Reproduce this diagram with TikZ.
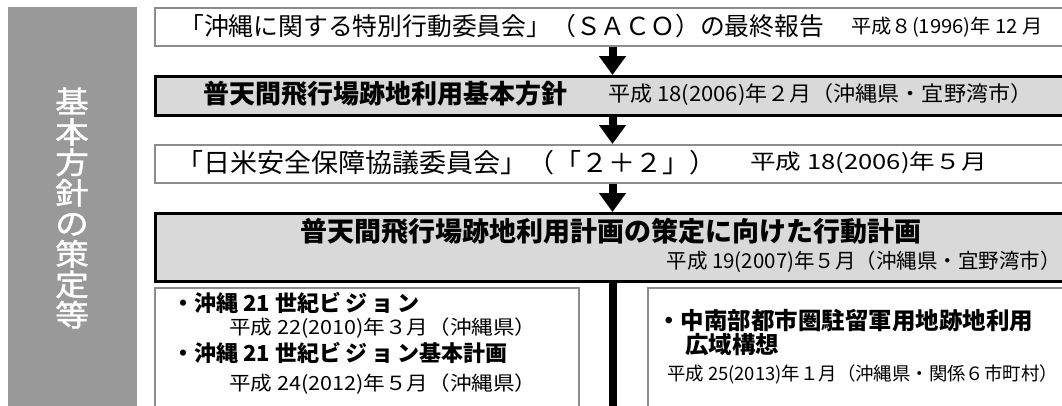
\documentclass[tikz,border=0pt]{standalone}
\usepackage{fontspec}
\setmainfont{Noto Sans CJK JP}
\newfontfamily\sidefont[FakeBold=1.2]{Noto Sans CJK JP}
\usetikzlibrary{arrows.meta}
\definecolor{sidegray}{HTML}{999999}
\definecolor{boxfill}{HTML}{D9D9D9}
\definecolor{thinline}{HTML}{8C8C8C}
\tikzset{
  plainbox/.style={draw=thinline, line width=2pt, fill=white, inner sep=0pt, anchor=north west},
  keybox/.style={draw=black, line width=3pt, fill=boxfill, inner sep=0pt, anchor=north west},
  txt/.style={inner sep=0pt, anchor=west},
  bigarrow/.style={line width=8pt, -{Triangle[length=19pt,width=26pt]}},
  trunk/.style={line width=8pt},
}
\newcommand{\fs}[1]{\fontsize{#1}{#1}\selectfont}
\newcommand{\hs}[2]{\scalebox{#1}[1]{#2}}
\newcommand{\vsn}{\makebox[100pt][s]{ビ\hfill ジ\hfill ョ\hfill ン}}
\begin{document}
\begin{tikzpicture}[x=1pt,y=-1pt]
\useasboundingbox (0,0) rectangle (1062,405);
\clip (0,0) rectangle (1062,405);
% side panel
\node[fill=sidegray, inner sep=0pt, anchor=north west, minimum width=129pt, minimum height=420pt] (side) at (8,7) {};
\node[text=white, inner sep=0pt, align=center, font=\sidefont\fs{30}] (sidetxt) at (72,208)
  {\hs{1.12}{基}\\[0.5pt]\hs{1.12}{本}\\[0.5pt]\hs{1.12}{方}\\[0.5pt]\hs{1.12}{針}\\[0.5pt]\hs{1.12}{の}\\[0.5pt]\hs{1.12}{策}\\[0.5pt]\hs{1.12}{定}\\[0.5pt]\hs{1.12}{等}};
% boxes
\node[plainbox, minimum width=916pt, minimum height=38pt] (b1) at (154,7) {};
\node[keybox, minimum width=916pt, minimum height=39pt] (b2) at (154,75) {};
\node[plainbox, minimum width=916pt, minimum height=38pt] (b3) at (154,144) {};
\node[keybox, minimum width=916pt, minimum height=68pt] (b4) at (154,212) {};
\node[plainbox, minimum width=424pt, minimum height=140pt] (b5) at (154,287) {};
\node[plainbox, minimum width=423pt, minimum height=140pt] (b6) at (647,287) {};
% arrows
\coordinate (ax) at (612.5,0);
\coordinate (bottom) at (612.5,410);
\draw[bigarrow] (b1.south -| ax) -- (b2.north -| ax);
\draw[bigarrow] (b2.south -| ax) -- (b3.north -| ax);
\draw[bigarrow] (b3.south -| ax) -- (b4.north -| ax);
\draw[trunk] (b4.south -| ax) -- (bottom);
% texts
\node[txt, font=\fs{24.8}] (t1a) at (179,26) {「沖縄に関する特別行動委員会」（ＳＡＣＯ）の最終報告};
\node[txt, font=\fs{19.5}] (t1b) at (851,27) {\hs{1.04}{平成８(1996)年 12 月}};
\node[txt, font=\bfseries\fs{26}] (t2a) at (203,94) {普天間飛行場跡地利用基本方針};
\node[txt, font=\fs{21}] (t2b) at (608,95) {\hs{1.05}{平成 18(2006)年２月（沖縄県・宜野湾市）}};
\node[txt, font=\fs{26}] (t3a) at (176,163) {\hs{1.04}{「日米安全保障協議委員会」（「２＋２」）}};
\node[txt, font=\fs{21}] (t3b) at (750,163) {\hs{1.22}{平成 18(2006)年５月}};
\node[inner sep=0pt, font=\bfseries\fs{27}] (t4a) at (611,231) {普天間飛行場跡地利用計画の策定に向けた行動計画};
\node[inner sep=0pt, anchor=east, font=\fs{20.5}] (t4b) at (1061,262) {平成 19(2007)年５月（沖縄県・宜野湾市）};
\node[txt, font=\bfseries\fs{22}] (t5a) at (172,303) {・沖縄 21 世紀\vsn};
\node[txt, font=\fs{19.5}] (t5b) at (229,328) {\hs{1.107}{平成 22(2010)年３月（沖縄県）}};
\node[txt, font=\bfseries\fs{22}] (t5c) at (172,353) {・沖縄 21 世紀\vsn 基本計画};
\node[txt, font=\fs{19.5}] (t5d) at (229,384) {\hs{1.107}{平成 24(2012)年５月（沖縄県）}};
\node[txt, font=\bfseries\fs{23.5}] (t6a) at (657,321) {・中南部都市圏駐留軍用地跡地利用};
\node[txt, font=\bfseries\fs{23.5}] (t6b) at (685,345) {広域構想};
\node[txt, font=\fs{18.4}] (t6c) at (667,374) {平成 25(2013)年１月（沖縄県・関係６市町村）};
\end{tikzpicture}
\end{document}
